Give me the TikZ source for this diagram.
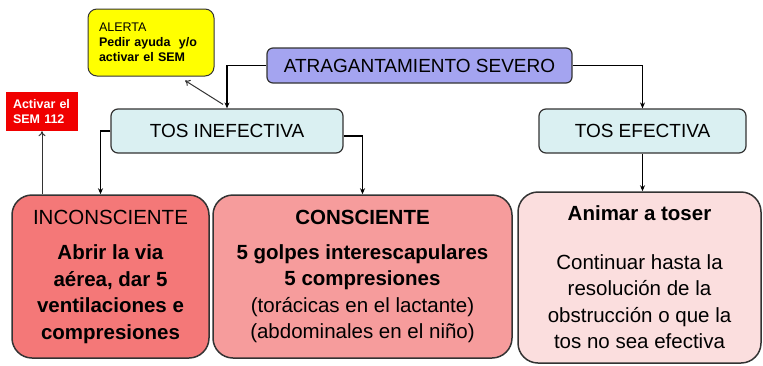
\documentclass[tikz,border=0pt]{standalone}
\usepackage{fontspec}
\setmainfont{Liberation Sans}
\usepackage{xcolor}
\usepackage{tikz}
\usetikzlibrary{calc}
\usetikzlibrary{arrows.meta}
\definecolor{alertyellow}{RGB}{255,255,0}
\definecolor{callred}{RGB}{240,0,0}
\definecolor{titleblue}{RGB}{164,164,240}
\definecolor{coughcyan}{RGB}{218,240,242}
\definecolor{unconsred}{RGB}{244,120,120}
\definecolor{consred}{RGB}{246,156,156}
\definecolor{effpink}{RGB}{251,222,222}
\tikzstyle{alertnode}=[black, draw=black!80, line width=1pt, shape=rectangle, rounded corners=9pt, fill=alertyellow, minimum width=126pt, minimum height=67pt, inner sep=0pt, text width=104pt, align=left, font=\fontsize{12.5}{15}\selectfont]
\tikzstyle{callnode}=[white, fill=callred, shape=rectangle, minimum width=72pt, minimum height=39pt, inner sep=0pt, text width=58pt, align=left, font=\fontsize{12.5}{14.5}\selectfont\bfseries]
\tikzstyle{titlenode}=[black, draw=black!80, line width=1.2pt, shape=rectangle, rounded corners=6pt, fill=titleblue, minimum width=305pt, minimum height=35pt, inner sep=0pt, font=\fontsize{19}{22}\selectfont]
\tikzstyle{coughnode}=[black, draw=black!80, line width=1.2pt, shape=rectangle, rounded corners=7pt, fill=coughcyan, minimum height=44pt, inner sep=0pt, font=\fontsize{19}{22}\selectfont]
\tikzstyle{stepnode}=[black, draw=black!80, line width=1.5pt, shape=rectangle, rounded corners=20pt, minimum height=163pt, inner sep=0pt, align=center, font=\fontsize{20.5}{26.5}\selectfont]

\begin{document}
\begin{tikzpicture}[x=1pt, y=-1pt]
\useasboundingbox (0,0) rectangle (763,365);
\node [alertnode] (alerta) at (151,42.5) {ALERTA\\ \textbf{Pedir ayuda\ \ y/o}\\ \textbf{activar el SEM}};
\node [callnode] (sem) at (42,111.5) {Activar el\\ SEM 112};
\node [titlenode] (severo) at (419.5,65.5) {ATRAGANTAMIENTO SEVERO};
\node [coughnode, minimum width=232pt] (inefectiva) at (227,131) {TOS INEFECTIVA};
\node [coughnode, minimum width=207pt] (efectiva) at (642.5,131) {TOS EFECTIVA};
\node [stepnode, fill=unconsred, minimum width=197pt] (inconsciente) at (110.5,276.5) {INCONSCIENTE\\[9pt] \textbf{Abrir la via}\\ \textbf{aérea, dar 5}\\ \textbf{ventilaciones e}\\ \textbf{compresiones}};
\node [stepnode, fill=consred, minimum width=299pt] (consciente) at (362.5,276.5) {\textbf{CONSCIENTE}\\[8pt] \textbf{5 golpes interescapulares}\\ \textbf{5 compresiones}\\ (torácicas en el lactante)\\ (abdominales en el niño)};
\node [stepnode, fill=effpink, minimum width=243pt, minimum height=171pt] (toser) at (639.5,277.5) {\textbf{Animar a toser}\\[22pt] Continuar hasta la\\ resolución de la\\ obstrucción o que la\\ tos no sea efectiva};

\draw[-{Stealth[length=6pt, width=5pt]}, line width=1.5pt, color=black] (severo.west) -| (inefectiva.north);
\draw[-{Stealth[length=6pt, width=5pt]}, line width=1.5pt, color=black] (severo.east) -| (efectiva.north);
\draw[-{Stealth[length=6pt, width=5pt]}, line width=1.5pt, color=black] (inefectiva.west) -| ([xshift=-10pt]inconsciente.north);
\draw[-{Stealth[length=6pt, width=5pt]}, line width=1.5pt, color=black] ([yshift=-5pt]inefectiva.east) -| (consciente.north);
\draw[-{Stealth[length=6pt, width=5pt]}, line width=1.5pt, color=black] (efectiva.south) -- (efectiva.south |- toser.north);
\draw[-{To[length=5pt, width=7pt]}, line width=1pt, color=black!80] ([xshift=-4pt, yshift=4pt]inefectiva.north) -- ([xshift=34pt, yshift=-4pt]alerta.south);
\draw[-{To[length=5pt, width=7pt]}, line width=1pt, color=black!80] (sem.south |- inconsciente.north) -- (sem.south);
\end{tikzpicture}
\end{document}
